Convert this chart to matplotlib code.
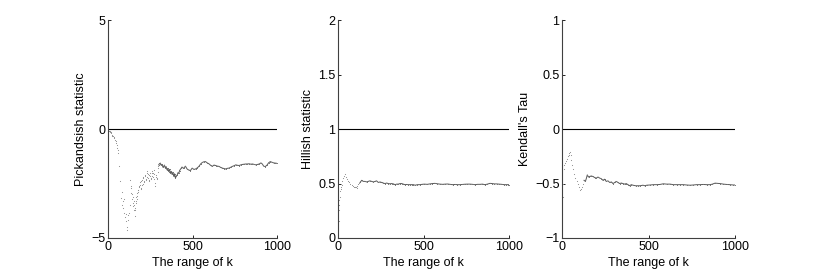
import numpy as np
import matplotlib
matplotlib.use("Agg")
import matplotlib.pyplot as plt

plt.rcParams['font.family'] = ['Liberation Sans', 'DejaVu Sans']
plt.rcParams['font.size'] = 8.5

# Pickands-type estimate, scattered part (small k)
pick_k_dots = [2, 4, 6, 9, 12, 15, 18, 22, 26, 30, 34, 38, 42, 45, 49, 52, 55, 58, 61, 65,
               71, 77, 81, 85, 88, 91, 94, 97, 101, 105, 108, 111, 114, 117, 121, 125, 128,
               131, 134, 137, 139, 141, 143, 145, 147, 149, 151, 153, 155, 157, 159, 161,
               163, 165, 167, 169, 171, 173, 175, 177, 180, 183, 185, 188, 190, 193, 195,
               198, 200, 203, 205, 208, 210, 213, 215, 218, 220, 223, 225, 228, 230, 233,
               236, 238, 240, 243, 245, 248, 250, 253, 255, 258, 260, 263, 265, 268, 270,
               273, 275, 278, 280, 283, 285, 288, 290, 293, 295, 298, 300]
pick_v_dots = [-0.05, -0.07, -0.08, -0.1, -0.11, -0.15, -0.18, -0.26, -0.3, -0.33, -0.38,
               -0.41, -0.48, -0.55, -0.62, -0.72, -0.85, -0.95, -1.1, -1.71, -2.4, -3.15,
               -2.9, -3.47, -3.3, -3.6, -3.2, -3.84, -4.05, -4.24, -3.9, -4.62, -4.5, -4.16,
               -3.95, -3.84, -3.5, -2.33, -2.6, -2.94, -2.7, -3.2, -3.0, -3.38, -3.1, -3.55,
               -3.3, -3.7, -3.5, -4.0, -3.7, -3.6, -3.3, -3.38, -3.1, -3.2, -2.95, -3.09,
               -2.8, -2.9, -2.78, -2.6, -2.65, -2.45, -2.56, -2.75, -2.7, -2.4, -2.33,
               -2.55, -2.5, -2.2, -2.25, -2.45, -2.4, -2.15, -2.1, -2.35, -2.3, -2.0, -1.94,
               -2.2, -2.25, -2.05, -2.1, -2.4, -2.35, -2.15, -2.02, -2.25, -2.3, -2.0,
               -2.17, -1.9, -2.0, -2.2, -1.87, -2.05, -2.3, -2.6, -2.48, -2.2, -2.1, -2.3,
               -2.25, -1.95, -1.8, -1.7, -1.64]
# Pickands-type estimate, smooth part
pick_k_line = [300, 305, 310, 315, 320, 325, 329, 334, 339, 344, 349, 354, 359, 364, 369,
               374, 379, 384, 389, 394, 399, 404, 409, 414, 419, 424, 428, 433, 438, 443,
               448, 458, 468, 478, 488, 498, 508, 518, 528, 538, 548, 558, 567, 577, 587,
               597, 607, 617, 627, 637, 647, 657, 667, 677, 687, 696, 706, 716, 726, 736,
               746, 756, 766, 776, 786, 796, 806, 815, 825, 835, 845, 855, 865, 875, 885,
               895, 905, 913, 921, 930, 940, 950, 960, 970, 980, 990, 1000]
pick_v_line = [-1.64, -1.58, -1.56, -1.66, -1.62, -1.75, -1.71, -1.65, -1.78, -1.72, -1.87,
               -1.8, -1.95, -1.85, -2.02, -1.94, -2.08, -1.98, -2.17, -2.05, -2.25, -2.15,
               -2.12, -2.0, -2.02, -1.9, -1.85, -1.8, -1.74, -1.78, -1.8, -1.7, -1.83,
               -1.88, -1.9, -1.79, -1.85, -1.83, -1.78, -1.71, -1.6, -1.53, -1.5, -1.49,
               -1.55, -1.59, -1.66, -1.71, -1.65, -1.67, -1.7, -1.71, -1.76, -1.79, -1.81,
               -1.83, -1.8, -1.79, -1.75, -1.71, -1.68, -1.64, -1.66, -1.67, -1.64, -1.62,
               -1.61, -1.6, -1.6, -1.59, -1.61, -1.6, -1.62, -1.64, -1.62, -1.6, -1.55,
               -1.6, -1.7, -1.72, -1.66, -1.55, -1.49, -1.52, -1.55, -1.56, -1.57]

# Hill-type estimate
hill_k_dots = [1, 2, 3, 4, 6, 8, 10, 13, 16, 20, 24, 29, 34, 39, 45, 51, 58, 64, 71, 78,
               85, 92, 98, 103, 107, 112, 117, 122, 127]
hill_v_dots = [0.07, 0.16, 0.26, 0.3, 0.35, 0.38, 0.43, 0.45, 0.47, 0.49, 0.52, 0.55, 0.57,
               0.59, 0.56, 0.54, 0.52, 0.51, 0.5, 0.49, 0.48, 0.47, 0.47, 0.465, 0.46,
               0.475, 0.5, 0.505, 0.51]
hill_k_line = [127, 137, 146, 156, 166, 175, 185, 195, 205, 215, 224, 234, 244, 254, 263,
               273, 283, 292, 302, 312, 322, 332, 341, 351, 361, 371, 380, 390, 400, 409,
               419, 429, 439, 449, 463, 478, 490, 503, 520, 536, 550, 565, 580, 594, 610,
               625, 640, 653, 668, 682, 697, 711, 726, 740, 755, 770, 785, 799, 814, 828,
               843, 857, 872, 887, 900, 913, 926, 940, 955, 970, 983, 994, 1000]
hill_v_line = [0.51, 0.53, 0.52, 0.52, 0.515, 0.52, 0.525, 0.52, 0.515, 0.52, 0.525, 0.51,
               0.515, 0.51, 0.505, 0.5, 0.505, 0.5, 0.498, 0.5, 0.497, 0.49, 0.495, 0.495,
               0.5, 0.5, 0.495, 0.49, 0.492, 0.49, 0.49, 0.49, 0.49, 0.485, 0.49, 0.49,
               0.493, 0.495, 0.493, 0.497, 0.5, 0.502, 0.498, 0.495, 0.493, 0.495, 0.496,
               0.493, 0.49, 0.492, 0.49, 0.49, 0.492, 0.494, 0.495, 0.495, 0.493, 0.49,
               0.493, 0.493, 0.495, 0.49, 0.495, 0.502, 0.5, 0.497, 0.497, 0.495, 0.493,
               0.49, 0.49, 0.49, 0.49]

# Kendall's tau
tau_k_dots = [0, 2, 4, 8, 12, 18, 22, 27, 32, 37, 41, 45, 49, 52, 57, 62, 69, 76, 83, 91,
              98, 105, 110, 114, 120, 126]
tau_v_dots = [-0.78, -0.62, -0.5, -0.37, -0.33, -0.31, -0.29, -0.27, -0.25, -0.24, -0.22,
              -0.21, -0.24, -0.28, -0.33, -0.37, -0.41, -0.45, -0.48, -0.5, -0.53, -0.56,
              -0.55, -0.53, -0.5, -0.47]
tau_k_line = [126, 134, 140, 145, 152, 159, 168, 178, 188, 197, 207, 217, 226, 236, 245,
              255, 265, 275, 285, 294, 304, 313, 323, 333, 342, 352, 362, 371, 381, 391,
              400, 410, 425, 439, 451, 468, 479, 490, 509, 528, 548, 567, 586, 605, 625,
              644, 663, 683, 702, 721, 741, 760, 779, 798, 818, 837, 857, 871, 886, 900,
              915, 934, 953, 972, 992, 1000]
tau_v_line = [-0.47, -0.48, -0.45, -0.42, -0.44, -0.435, -0.43, -0.435, -0.445, -0.45,
              -0.44, -0.45, -0.455, -0.47, -0.46, -0.48, -0.475, -0.49, -0.485, -0.5,
              -0.49, -0.48, -0.49, -0.5, -0.495, -0.5, -0.505, -0.5, -0.51, -0.52, -0.51,
              -0.515, -0.52, -0.52, -0.52, -0.515, -0.52, -0.515, -0.513, -0.51, -0.51,
              -0.508, -0.502, -0.505, -0.505, -0.51, -0.51, -0.51, -0.51, -0.513, -0.515,
              -0.513, -0.51, -0.51, -0.508, -0.51, -0.51, -0.505, -0.496, -0.498, -0.5,
              -0.505, -0.508, -0.51, -0.513, -0.513]

ref_levels = [0, 1, 0]
ylabels = ['Pickandsish statistic', 'Hillish statistic', "Kendall's Tau"]
ylims = [(-5, 5), (0, 2), (-1, 1)]
yticks = [[-5, 0, 5], [0, 0.5, 1, 1.5, 2], [-1, -0.5, 0, 0.5, 1]]
ytick_labels = [['\u22125', '0', '5'], ['0', '0.5', '1', '1.5', '2'],
                ['\u22121', '\u22120.5', '0', '0.5', '1']]
xticks = [0, 500, 1000]

series = [(pick_k_dots, pick_v_dots, pick_k_line, pick_v_line),
          (hill_k_dots, hill_v_dots, hill_k_line, hill_v_line),
          (tau_k_dots, tau_v_dots, tau_k_line, tau_v_line)]

fig = plt.figure(figsize=(8.17, 2.75), dpi=100)
lefts = [108 / 817, 338.3 / 817, 562.3 / 817]
widths = [169 / 817, 171 / 817, 172.4 / 817]
bottom = 1 - 238 / 275
height = (238 - 20.3) / 275

for i in range(3):
    ax = fig.add_axes([lefts[i], bottom, widths[i], height])
    kd, vd, kl, vl = series[i]
    ax.plot(kd, vd, linestyle='none', marker='.', ms=1.6, color='0.55', mew=0)
    ax.plot(kl, vl, '-', lw=0.7, color='0.35')
    ax.plot(kl, vl, linestyle='none', marker='.', ms=1.4, color='0.45', mew=0)
    ax.axhline(ref_levels[i], color='black', lw=0.8)
    ax.set_xlim(0, 1000)
    ax.set_ylim(*ylims[i])
    ax.set_xticks(xticks)
    ax.set_yticks(yticks[i])
    ax.set_yticklabels(ytick_labels[i])
    ax.spines['top'].set_visible(False)
    ax.spines['right'].set_visible(False)
    ax.spines['left'].set_color('0.25')
    ax.spines['bottom'].set_color('0.25')
    ax.tick_params(direction='in', length=2.5, width=0.6, pad=2, labelsize=9)
    ax.set_xlabel('The range of k', fontsize=9, labelpad=3)
    ax.set_ylabel(ylabels[i], fontsize=9, labelpad=3)

fig.savefig('out.png', dpi=100)
